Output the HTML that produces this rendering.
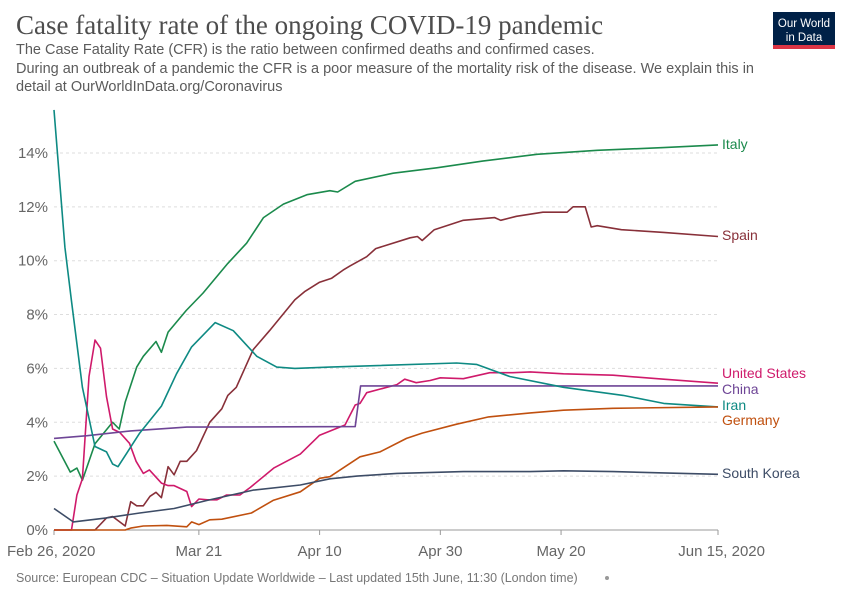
<!DOCTYPE html>
<html><head><meta charset="utf-8"><style>
body{margin:0;background:#fff;width:850px;height:600px;overflow:hidden;font-family:"Liberation Sans",sans-serif}
</style></head><body>
<svg id="c" width="850" height="600" xmlns="http://www.w3.org/2000/svg">
<text x="16" y="34" font-family="Liberation Serif,serif" font-size="27" fill="#4d4d4d">Case fatality rate of the ongoing COVID-19 pandemic</text>
<g font-size="14.5" fill="#5b5b5b">
<text x="16" y="54">The Case Fatality Rate (CFR) is the ratio between confirmed deaths and confirmed cases.</text>
<text x="16" y="73">During an outbreak of a pandemic the CFR is a poor measure of the mortality risk of the disease. We explain this in</text>
<text x="16" y="91">detail at OurWorldInData.org/Coronavirus</text>
</g>
<g>
<rect x="773" y="12" width="62" height="36" fill="#002147"/>
<rect x="773" y="45" width="62" height="4" fill="#dc3545"/>
<text x="804" y="27" font-size="11.5" fill="#fff" text-anchor="middle">Our World</text>
<text x="804" y="41" font-size="11.5" fill="#fff" text-anchor="middle">in Data</text>
</g>
<g id="grid"></g><g id="series"></g><g id="labels"></g>
<text x="16" y="582" font-size="12.5" fill="#777">Source: European CDC – Situation Update Worldwide – Last updated 15th June, 11:30 (London time)</text>
<circle cx="607" cy="578" r="2" fill="#999"/>
</svg>
<script>
const yTicks=[0,2,4,6,8,10,12,14];
const xTickDays=[0,24,44,64,84,110];
const xTickLabels=["Feb 26, 2020","Mar 21","Apr 10","Apr 30","May 20","Jun 15, 2020"];
const seriesNames=["Italy","Spain","United States","China","Iran","Germany","South Korea"];
const italyDays=[0,2.7,3.8,4.7,6.8,9.7,10.8,11.8,13.7,14.8,16.9,17.8,18.9,21.9,24.7,28.8,31.9,34.7,38,41.9,45.7,47,49.9,56.2,63.4,71,80,90,101,110];
const italyVals=[3.3,2.15,2.3,1.85,3.2,4.0,3.75,4.75,6.05,6.45,7.0,6.6,7.35,8.15,8.8,9.9,10.65,11.6,12.1,12.45,12.6,12.55,12.95,13.25,13.45,13.7,13.95,14.1,14.2,14.3];
const spainDays=[0,6.8,8.7,9.7,11.8,12.7,13.7,14.8,15.9,16.9,17.8,18.9,19.9,20.9,22,23.6,25.8,27.8,28.8,30.2,33,35.7,39.9,41.5,44,46,47.9,49,51.8,53.3,59,60.2,61,63,67.8,73,74,76.6,81,85,86,88,89,90,94,101,110];
const spainVals=[0,0,0.45,0.5,0.15,1.05,0.9,0.9,1.25,1.4,1.2,2.35,2.05,2.55,2.55,2.95,4.0,4.5,5.0,5.3,6.7,7.4,8.55,8.85,9.2,9.35,9.65,9.8,10.15,10.45,10.85,10.9,10.75,11.15,11.5,11.6,11.5,11.65,11.8,11.8,12.0,12.0,11.25,11.3,11.15,11.05,10.9];
const usDays=[0,2.9,3.8,4.7,5.8,6.8,7.7,8.7,9.7,10.9,12.5,13.6,14.8,15.8,17.8,18.9,19.9,22,22.8,24,25.4,27,28.6,30.8,32.5,36.4,40.8,44,46,48.2,49.9,50.7,51.8,56.8,58.1,60,62.3,64,67.8,72.2,76,78.9,84.4,92.6,101,110];
const usVals=[0,0,1.3,1.9,5.7,7.05,6.75,4.95,3.75,3.62,3.22,2.55,2.1,2.23,1.74,1.65,1.65,1.43,0.87,1.15,1.12,1.12,1.3,1.3,1.58,2.3,2.82,3.52,3.7,3.9,4.64,4.7,5.1,5.4,5.6,5.47,5.55,5.65,5.62,5.84,5.84,5.87,5.8,5.75,5.6,5.45];
const chinaDays=[0,5.5,12.7,22,49.9,50.8,110];
const chinaVals=[3.4,3.5,3.68,3.82,3.84,5.35,5.35];
const iranDays=[0,1.8,2.9,4.7,6.8,8.7,9.7,10.6,14.2,17.8,20.3,22.8,26.7,29.7,33.6,36.9,39.9,45.7,66.7,70,75.5,84.4,94.3,101,110];
const iranVals=[15.6,10.5,8.5,5.3,3.1,2.9,2.45,2.35,3.6,4.6,5.8,6.8,7.7,7.4,6.45,6.05,6.0,6.05,6.2,6.15,5.7,5.3,5.0,4.7,4.57];
const germanyDays=[0,11.8,12.7,14.8,18.7,22,22.8,24,25.8,27.8,32.7,36.3,40.8,44,45.7,50.7,54,58.4,61,66.7,72,78.9,84.4,92.6,110];
const germanyVals=[0,0,0.07,0.15,0.17,0.12,0.3,0.2,0.38,0.4,0.63,1.1,1.42,1.92,1.98,2.72,2.9,3.4,3.6,3.93,4.2,4.35,4.45,4.52,4.57];
const koreaDays=[0,3.2,8.7,14.2,19.9,25.4,33,40.8,45.7,50.2,56.8,67.8,78.9,84.4,92.6,101,110];
const koreaVals=[0.8,0.3,0.45,0.63,0.8,1.1,1.48,1.67,1.9,2.0,2.1,2.17,2.17,2.2,2.17,2.12,2.07];

const X0=54,X1=718,Y0=530,PX=26.93;
const xs=d=>X0+d*(X1-X0)/110;
const ys=v=>Y0-v*PX;
const NS="http://www.w3.org/2000/svg";
const mk=(t,a,p)=>{const e=document.createElementNS(NS,t);for(const k in a)e.setAttribute(k,a[k]);p.appendChild(e);return e;};
const grid=document.getElementById('grid');
yTicks.forEach(v=>{
  if(v>0){const l=mk('line',{x1:X0,x2:X1,y1:ys(v),y2:ys(v),stroke:'#ddd','stroke-dasharray':'3,3'},grid);
  
  }
  const t=mk('text',{x:48,y:ys(v)+5,'text-anchor':'end','font-size':15,fill:'#666'},grid);
  t.textContent=v+'%';
  
  
});
const ax=mk('line',{x1:X0,x2:X1,y1:Y0,y2:Y0,stroke:'#999'},grid);


xTickDays.forEach((d,i)=>{
  const tk=mk('line',{x1:xs(d),x2:xs(d),y1:Y0,y2:Y0+5,stroke:'#999'},grid);
  
  
  const anchor=i==0?'start':(i==xTickDays.length-1?'end':'middle');
  const t=mk('text',{x:i==0?7:(i==xTickDays.length-1?765:xs(d)),y:556,'text-anchor':anchor,'font-size':15,fill:'#666'},grid);
  t.textContent=xTickLabels[i];
  
  
});
const S=[[italyDays,italyVals,'#1b8a4c',144],[spainDays,spainVals,'#883039',235],[usDays,usVals,'#cf1a6b',373],[chinaDays,chinaVals,'#6e4596',389],[iranDays,iranVals,'#0e8a83',405],[germanyDays,germanyVals,'#c0500f',420],[koreaDays,koreaVals,'#3d4c66',473]];
const sg=document.getElementById('series'),lg=document.getElementById('labels');
S.forEach((s,i)=>{
  const pts=s[0].map((d,j)=>xs(d).toFixed(1)+','+ys(s[1][j]).toFixed(1)).join(' ');
  const p=mk('polyline',{points:pts,fill:'none',stroke:s[2],'stroke-width':1.6,'stroke-linejoin':'round'},sg);
  
  
  const t=mk('text',{x:722,y:s[3]+5,'font-size':14,fill:s[2]},lg);
  t.textContent=seriesNames[i];
  
  
});
</script>
</body></html>
